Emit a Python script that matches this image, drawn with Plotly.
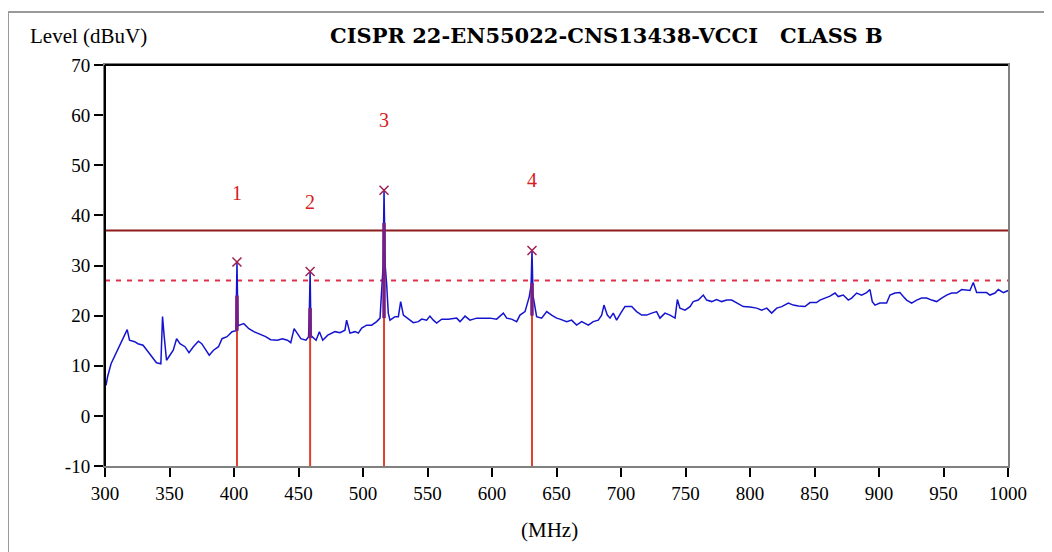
import plotly.graph_objects as go

# ---------------- data ----------------
freq_mhz = [300.8, 302, 304.7, 307.3, 311.2, 313.8, 317.2, 319, 323, 325.5, 329.5, 333.4, 337.3, 339.9, 343.3,
            344.6, 345.9, 347.7, 350.3, 352.9, 355.5, 358.1, 362, 365.1, 368.5, 372.4, 375, 377.6, 380.8, 384.1,
            388, 390.7, 394.6, 398.5, 401.5, 402.3, 403.1, 407.6, 411.5, 415.4, 419.3, 424.5, 428.4, 433.6, 437.5,
            441.4, 444, 446.6, 449.2, 451.8, 455.8, 457.8, 458.4, 459.0, 459.7, 463.6, 466.2, 468.8, 472.7, 476.1,
            478.3, 482.2, 486, 487.3, 489.9, 493.8, 496.4, 499, 502.8, 506.7, 510.6, 513.2, 514.6, 515.6, 516.3,
            517.2, 518.3, 519.6, 520.9, 524.8, 527.4, 529.2, 531.3, 535.1, 539, 542.9, 545.5, 549.3, 551.9, 554.5,
            557.1, 561, 566.1, 572.6, 575.2, 579.1, 582.9, 588.1, 593.3, 598.4, 603.6, 608.8, 611.4, 615.2, 619.1,
            621.7, 625.6, 628.9, 630.3, 631.0, 631.8, 634.6, 638.5, 642.4, 646.2, 650.1, 652.7, 657.9, 661.7, 665.6,
            669.5, 674.7, 678.5, 682.4, 685, 686.8, 689.4, 691.5, 694, 696.6, 700.5, 703.1, 708.3, 712.1, 716,
            719.9, 723.8, 727.6, 730.2, 734.1, 738, 741.9, 743.7, 745.7, 749.6, 753.5, 756, 759.9, 763.8, 766.4,
            770.3, 774.1, 778, 781.9, 785.8, 789.7, 794.8, 800, 805.2, 809.1, 813, 816.8, 820.7, 824.6, 829.7,
            833.6, 837.4, 842.6, 846.5, 851.6, 854.2, 858.1, 862, 865.9, 868.4, 872.3, 876.2, 878.8, 882.7, 886.5,
            890.4, 893, 894.8, 896.9, 900.7, 905.9, 908.5, 912.4, 916.2, 918.8, 921.4, 925.3, 929.2, 933, 936.9,
            940.8, 944.7, 948.6, 952.4, 956.3, 960.2, 964.1, 967.9, 970.5, 973.1, 975.7, 979.6, 983.4, 986, 989.9,
            992.5, 996.4, 1000]
level_dbuv = [6.1, 7.8, 10.4, 11.8, 13.8, 15.4, 17.2, 15.1, 14.8, 14.4, 14.1, 12.8, 11.4, 10.6, 10.4,
              19.8, 15.8, 11.1, 12.1, 13.1, 15.4, 14.4, 13.8, 12.6, 13.8, 14.9, 14.4, 13.4, 12.1, 13.1,
              13.8, 15.4, 15.8, 16.8, 17.0, 30.7, 18.0, 18.4, 17.4, 16.8, 16.4, 15.8, 15.2, 15.1, 15.4,
              15.1, 14.6, 17.4, 16.4, 15.4, 15.1, 15.8, 20.6, 28.8, 16.0, 15.1, 16.8, 15.1, 16.1, 16.6,
              16.8, 16.6, 17.1, 19.1, 16.5, 16.8, 16.5, 17.5, 18.1, 18.1, 18.8, 19.5, 25.1, 30.0, 45.0,
              30.0, 26.4, 20.5, 19.1, 19.8, 19.8, 22.8, 20.1, 19.3, 18.6, 18.8, 19.3, 19.1, 19.9, 19.1,
              18.5, 19.3, 19.3, 19.5, 18.8, 19.9, 19.1, 19.5, 19.5, 19.5, 19.3, 20.5, 19.5, 19.3, 18.8,
              20.1, 20.8, 23.8, 26.0, 33.0, 24.0, 19.8, 19.5, 20.8, 20.1, 19.5, 19.3, 18.8, 19.1, 18.1,
              18.8, 18.1, 18.8, 19.1, 20.1, 22.1, 20.1, 19.5, 20.5, 19.1, 20.8, 21.8, 21.8, 20.8, 20.1,
              20.1, 20.5, 20.8, 19.5, 20.5, 20.1, 19.5, 23.2, 21.5, 21.1, 21.8, 22.8, 23.1, 24.1, 23.1,
              22.8, 23.2, 22.8, 23.1, 23.1, 22.5, 21.8, 21.7, 21.5, 21.1, 21.5, 20.5, 21.5, 21.8, 22.5,
              22.1, 21.9, 21.8, 22.6, 22.6, 23.1, 23.5, 23.9, 24.5, 23.8, 24.1, 23.1, 23.5, 24.5, 24.1,
              24.6, 25.2, 22.8, 22.1, 22.5, 22.5, 24.1, 24.5, 24.6, 23.8, 23.1, 22.5, 23.1, 23.5, 23.5,
              23.1, 22.8, 23.5, 24.1, 24.5, 24.5, 25.2, 25.1, 25.0, 26.6, 24.6, 24.6, 24.6, 24.1, 24.5,
              25.2, 24.6, 25.0]

marker_labels = ["1", "2", "3", "4"]
marker_freq = [402.3, 459.0, 516.3, 631.0]
marker_peak = [30.7, 28.8, 45.0, 33.0]
marker_qp = [24.0, 21.5, 38.5, 26.5]
marker_base = [17.0, 15.5, 19.5, 20.0]
marker_label_level = [44.1, 42.3, 58.6, 46.6]

limit_level = 37
margin_level = 27
x_range = [300, 1000]
y_range = [-10, 70]
x_ticks = [300, 350, 400, 450, 500, 550, 600, 650, 700, 750, 800, 850, 900, 950, 1000]
y_ticks = [-10, 0, 10, 20, 30, 40, 50, 60, 70]

# ---------------- layout geometry (page pixels) ----------------
OFF = 8                      # default body margin of the html page
PAGE_W, PAGE_H = 1052, 552
W, H = PAGE_W - OFF, PAGE_H - OFF
PL, PR, PT, PB = 105, 1008, 65, 466   # plot area in page pixels


def px_x(p):
    return (p - PL) / (PR - PL)


def px_y(p):
    return (PB - p) / (PB - PT)


SERIF = "Liberation Serif, DejaVu Serif, serif"
WIDE_SERIF = "DejaVu Serif, Liberation Serif, serif"

fig = go.Figure()

# limit lines
fig.add_trace(go.Scatter(x=x_range, y=[limit_level, limit_level], mode="lines",
                         line=dict(color="#8e1b1b", width=2), hoverinfo="skip", showlegend=False))
fig.add_trace(go.Scatter(x=x_range, y=[margin_level, margin_level], mode="lines",
                         line=dict(color="#e0304c", width=2, dash="5px,6px"), hoverinfo="skip", showlegend=False))

# marker verticals (red from bottom to QP)
for f, qp in zip(marker_freq, marker_qp):
    fig.add_trace(go.Scatter(x=[f, f], y=[y_range[0], qp], mode="lines",
                             line=dict(color="#e0402a", width=2), hoverinfo="skip", showlegend=False))

# measured trace
fig.add_trace(go.Scatter(x=freq_mhz, y=level_dbuv, mode="lines",
                         line=dict(color="#1414d0", width=1.5), hoverinfo="skip", showlegend=False))

# overlap (purple) segments from trace to QP
for f, b, qp in zip(marker_freq, marker_base, marker_qp):
    fig.add_trace(go.Scatter(x=[f, f], y=[b, qp], mode="lines",
                             line=dict(color="#7a1f80", width=3.5), hoverinfo="skip", showlegend=False))

# peak markers
fig.add_trace(go.Scatter(x=marker_freq, y=marker_peak, mode="markers",
                         marker=dict(symbol="x-thin", size=9, line=dict(color="#a02050", width=1.5)),
                         hoverinfo="skip", showlegend=False))

# marker numbers
fig.add_trace(go.Scatter(x=marker_freq, y=marker_label_level, mode="text", text=marker_labels,
                         textfont=dict(family=SERIF, size=20, color="#d42020"),
                         hoverinfo="skip", showlegend=False))

annotations = [
    dict(text="CISPR 22-EN55022-CNS13438-VCCI\u00a0\u00a0\u00a0CLASS B", xref="paper", yref="paper",
         x=px_x(606), y=px_y(36), xanchor="center", yanchor="middle", showarrow=False,
         font=dict(family=WIDE_SERIF, size=21, color="black", weight="bold")),
    dict(text="Level (dBuV)", xref="paper", yref="paper", x=px_x(28), y=px_y(36),
         xanchor="left", yanchor="middle", showarrow=False, font=dict(family=SERIF, size=21, color="black")),
    dict(text="(MHz)", xref="paper", yref="paper", x=px_x(549), y=px_y(530),
         xanchor="center", yanchor="middle", showarrow=False, font=dict(family=SERIF, size=21, color="black")),
]

shapes = [
    # outer frame (top and left)
    dict(type="line", xref="paper", yref="paper", x0=px_x(8), x1=px_x(PAGE_W), y0=px_y(12), y1=px_y(12),
         line=dict(color="#9a9a9a", width=2)),
    dict(type="line", xref="paper", yref="paper", x0=px_x(8), x1=px_x(8), y0=px_y(12), y1=px_y(PAGE_H),
         line=dict(color="#9a9a9a", width=2)),
    # black left and top axis lines
    dict(type="line", xref="paper", yref="paper", x0=0, x1=0, y0=0, y1=1, line=dict(color="black", width=2)),
    dict(type="line", xref="paper", yref="paper", x0=0, x1=1, y0=1, y1=1, line=dict(color="black", width=2)),
]

fig.update_layout(
    width=W, height=H,
    margin=dict(l=PL - OFF, r=W - (PR - OFF), t=PT - OFF, b=H - (PB - OFF), pad=0),
    paper_bgcolor="white", plot_bgcolor="white",
    annotations=annotations, shapes=shapes,
    xaxis=dict(range=x_range, tickvals=x_ticks, ticktext=[str(t) for t in x_ticks],
               showgrid=False, zeroline=False, showline=True, linecolor="#808080", linewidth=2, mirror=True,
               ticks="outside", ticklen=9, tickwidth=1.5, tickcolor="black",
               tickfont=dict(family=SERIF, size=19, color="black")),
    yaxis=dict(range=y_range, tickvals=y_ticks, ticktext=[str(t) for t in y_ticks],
               showgrid=False, zeroline=False, showline=True, linecolor="#808080", linewidth=2, mirror=True,
               ticks="outside", ticklen=9, tickwidth=1.5, tickcolor="black",
               tickfont=dict(family=SERIF, size=19, color="black")),
)

fig.write_html("out.html")
